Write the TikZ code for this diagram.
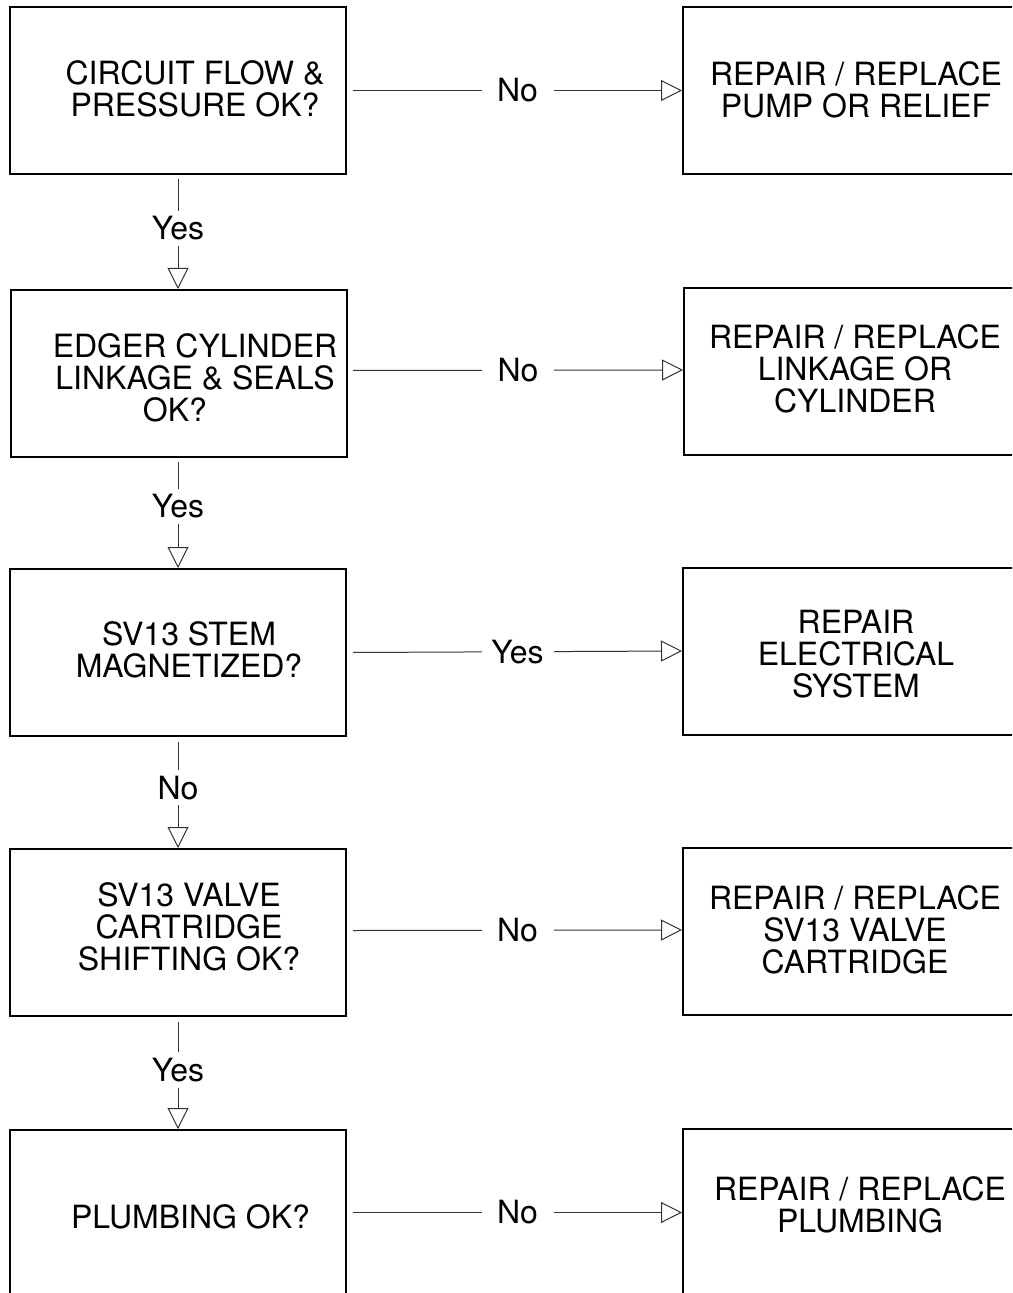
\documentclass[tikz,border=0pt]{standalone}
\usepackage{fontspec}
\setmainfont{TeX Gyre Heros}
\usetikzlibrary{arrows.meta,calc}
\begin{document}
\begin{tikzpicture}[x=0.5pt,y=-0.5pt,
  box/.style={draw,line width=1pt,minimum width=168pt,minimum height=83.5pt,inner sep=0pt},
  txt/.style={font=\fontsize{16}{16}\selectfont,align=center,inner sep=0pt},
  lbl/.style={font=\fontsize{16}{16}\selectfont,fill=white,inner sep=3pt,minimum width=36pt},
  flow/.style={draw=black!80,line width=0.5pt,-{Triangle[open,length=10.5pt,width=10.5pt]}}]
\clip (0,0) rectangle (1012,1293);
% left column boxes
\node[box] (L1) at (178,90.5) {};
\node[box] (L2) at (179,373.5) {};
\node[box] (L3) at (178,652.5) {};
\node[box] (L4) at (178,932.5) {};
\node[box] (L5) at (178,1213.5) {};
% right column boxes
\node[box] (R1) at (851,90.5) {};
\node[box] (R2) at (852,371.5) {};
\node[box] (R3) at (851,651) {};
\node[box] (R4) at (851,931) {};
\node[box] (R5) at (851,1212.5) {};
% texts
\node[txt] (TL1) at (195,88.5) {CIRCUIT FLOW \&\\PRESSURE OK?};
\node[txt] (TL2) at (195,378) {EDGER CYLINDER\\LINKAGE \& SEALS\\OK?\hspace*{20pt}};
\node[txt] (TL3) at (189,650) {SV13 STEM\\MAGNETIZED?};
\node[txt] (TL4) at (189,927) {SV13 VALVE\\CARTRIDGE\\SHIFTING OK?};
\node[txt] (TL5) at (190.5,1217) {PLUMBING OK?};
\node[txt] (TR1) at (856,90) {REPAIR / REPLACE\\PUMP OR RELIEF};
\node[txt] (TR2) at (855,369) {REPAIR / REPLACE\\LINKAGE OR\\CYLINDER};
\node[txt] (TR3) at (856,654) {REPAIR\\ELECTRICAL\\SYSTEM};
\node[txt] (TR4) at (855,929.5) {REPAIR / REPLACE\\SV13 VALVE\\CARTRIDGE};
\node[txt] (TR5) at (860,1205) {REPAIR / REPLACE\\PLUMBING};
% horizontal connectors
\draw[flow] ($(L1.east)+(6,0)$) -- node[lbl] (h1) {No} (R1.west);
\draw[flow] ($(L2.east)+(5,-3)$) -- node[lbl] (h2) {No} ($(R2.west)+(0,-1.5)$);
\draw[flow] ($(L3.east)+(6,0)$) -- node[lbl] (h3) {Yes} (R3.west);
\draw[flow] ($(L4.east)+(6,-2)$) -- node[lbl] (h4) {No} ($(R4.west)+(0,-1)$);
\draw[flow] ($(L5.east)+(6,-1)$) -- node[lbl] (h5) {No} (R5.west);
% vertical connectors
\draw[flow] ($(L1.south)+(0,4)$) -- node[lbl,pos=0.45] (v1) {Yes} ($(L2.north)+(-1,0)$);
\draw[flow] ($(L2.south)+(-1,4)$) -- node[lbl,pos=0.42] (v2) {Yes} (L3.north);
\draw[flow] ($(L3.south)+(0,5)$) -- node[lbl,pos=0.43] (v3) {No} (L4.north);
\draw[flow] ($(L4.south)+(0,5)$) -- node[lbl,pos=0.45] (v4) {Yes} (L5.north);
\end{tikzpicture}
\end{document}
